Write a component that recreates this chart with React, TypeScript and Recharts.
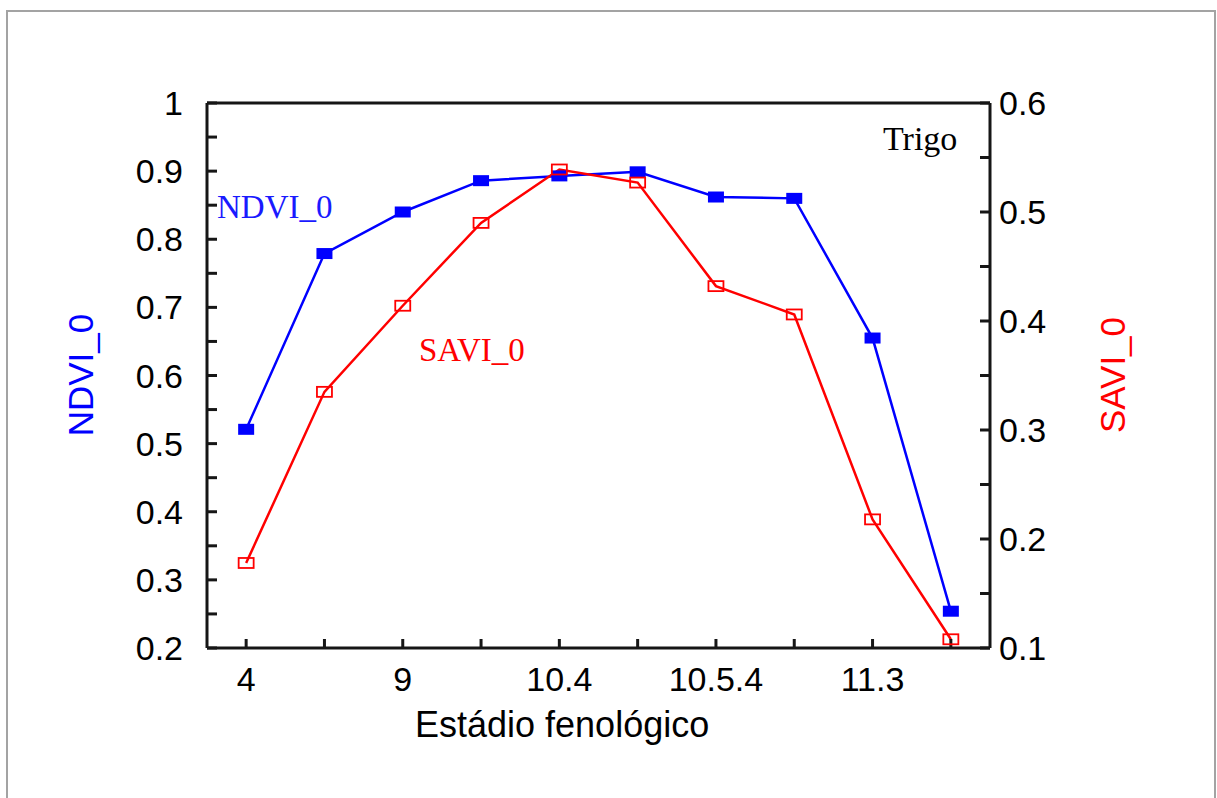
import { LineChart, Line, XAxis, YAxis, ReferenceLine } from "recharts";

// phenological stages (only every other tick is labelled)
const stages = ["4", "", "9", "", "10.4", "", "10.5.4", "", "11.3", ""];
const stagePos = [1, 2, 3, 4, 5, 6, 7, 8, 9, 10];
const ndvi = [0.521, 0.779, 0.84, 0.886, 0.893, 0.899, 0.862, 0.86, 0.655, 0.254];
const savi = [0.178, 0.335, 0.414, 0.49, 0.539, 0.527, 0.432, 0.406, 0.218, 0.108];

const ndviTicks = [0.2, 0.25, 0.3, 0.35, 0.4, 0.45, 0.5, 0.55, 0.6, 0.65, 0.7, 0.75, 0.8, 0.85, 0.9, 0.95, 1];
const saviTicks = [0.1, 0.15, 0.2, 0.25, 0.3, 0.35, 0.4, 0.45, 0.5, 0.55, 0.6];

const data = stagePos.map((pos, i) => ({ pos, ndvi: ndvi[i], savi: savi[i] }));

const BLUE = "#0000ff";
const RED = "#ff0000";
const AXIS = "#161616";
const SANS = "'Liberation Sans', Arial, sans-serif";
const SERIF = "'Liberation Serif', 'Times New Roman', serif";

const tickStyle = { fill: "#000", fontSize: 34, fontFamily: SANS };

// only the 0.1 steps get a label, the 0.05 ones stay plain ticks
const decimalLabel = (v: number) =>
  Math.abs(v * 10 - Math.round(v * 10)) < 1e-6 ? String(Math.round(v * 10) / 10) : "";

export default function App() {
  return (
    <div
      style={{
        position: "fixed",
        left: 0,
        top: 0,
        width: 1217,
        height: 798,
        overflow: "hidden",
        background: "#fff",
      }}
    >
      <LineChart
        width={1217}
        height={798}
        data={data}
        margin={{ top: 103, left: 147, right: 167, bottom: 90 }}
        style={{ position: "absolute", left: 0, top: 0 }}
      >
        <XAxis
          dataKey="pos"
          type="number"
          domain={[0.5, 10.5]}
          ticks={stagePos}
          tickFormatter={(v: number) => stages[v - 1] ?? ""}
          interval={0}
          height={60}
          stroke={AXIS}
          strokeWidth={3}
          tickSize={-9}
          tickMargin={28}
          tick={tickStyle}
        />
        <YAxis
          yAxisId="left"
          domain={[0.2, 1]}
          ticks={ndviTicks}
          interval={0}
          tickFormatter={decimalLabel}
          width={60}
          stroke={AXIS}
          strokeWidth={3}
          tickSize={-10}
          tickMargin={34}
          tick={tickStyle}
        />
        <YAxis
          yAxisId="right"
          orientation="right"
          domain={[0.1, 0.6]}
          ticks={saviTicks}
          interval={0}
          tickFormatter={decimalLabel}
          width={60}
          stroke={AXIS}
          strokeWidth={3}
          tickSize={-10}
          tickMargin={19}
          tick={tickStyle}
        />
        <ReferenceLine yAxisId="left" y={1} stroke={AXIS} strokeWidth={3} />
        <Line
          yAxisId="left"
          dataKey="ndvi"
          stroke={BLUE}
          strokeWidth={2.5}
          isAnimationActive={false}
          dot={(p: any) => (
            <rect key={`n-${p.index}`} x={p.cx - 8} y={p.cy - 5.5} width={16} height={11} fill={BLUE} />
          )}
        />
        <Line
          yAxisId="right"
          dataKey="savi"
          stroke={RED}
          strokeWidth={2.5}
          isAnimationActive={false}
          dot={(p: any) => (
            <rect
              key={`s-${p.index}`}
              x={p.cx - 7.5}
              y={p.cy - 5}
              width={15}
              height={10}
              fill="none"
              stroke={RED}
              strokeWidth={1.8}
            />
          )}
        />
      </LineChart>
      <svg
        width={1217}
        height={798}
        style={{ position: "absolute", left: 0, top: 0, pointerEvents: "none" }}
      >
        <rect x={7} y={11} width={1208} height={820} fill="none" stroke="#a3a3a3" strokeWidth={2} />
        <text x={883} y={150} fontSize={34} fontFamily={SERIF} fill="#000">
          Trigo
        </text>
        <text x={217} y={218} fontSize={33} fontFamily={SERIF} fill="#1a1aff">
          NDVI_0
        </text>
        <text x={419} y={361} fontSize={33} fontFamily={SERIF} fill={RED}>
          SAVI_0
        </text>
        <text
          x={93}
          y={375}
          fontSize={35}
          fontFamily={SANS}
          fill={BLUE}
          textAnchor="middle"
          transform="rotate(-90 93 375)"
        >
          NDVI_0
        </text>
        <text
          x={1125}
          y={375}
          fontSize={35}
          fontFamily={SANS}
          fill={RED}
          textAnchor="middle"
          transform="rotate(-90 1125 375)"
        >
          SAVI_0
        </text>
        <text x={415} y={737} fontSize={36} fontFamily={SANS} fill="#000">
          Estádio fenológico
        </text>
      </svg>
    </div>
  );
}
